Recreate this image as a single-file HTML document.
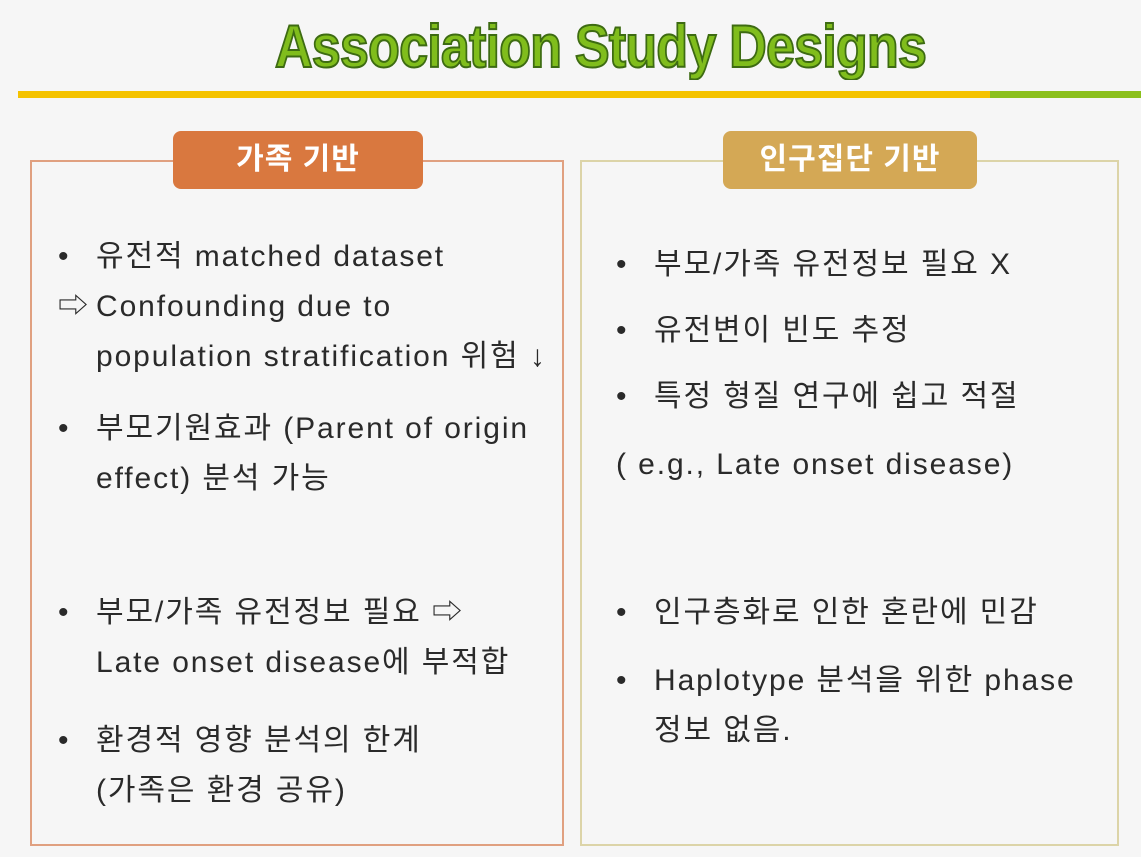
<!DOCTYPE html>
<html><head><meta charset="utf-8"><style>
body{margin:0;width:1141px;height:857px;background:#f6f6f6;position:relative;overflow:hidden;font-family:"Liberation Sans","Noto Sans CJK KR",sans-serif;color:#2a2a2a}
.abs{position:absolute}
#title{left:30px;width:1141px;top:12px;text-align:center;font-family:"Liberation Sans Narrow","Liberation Sans",sans-serif;font-weight:bold;font-size:60px;color:#80bd1c;-webkit-text-stroke:2px #3d6b12;letter-spacing:-1px;transform:scaleX(0.87)}
.box{border:2px solid;top:160px;height:682px}
.hdr{border-radius:8px;color:#fff;font-size:30px;font-weight:bold;text-align:center;line-height:58px;height:58px;top:131px;letter-spacing:1px}
.t{font-size:30px;line-height:50px;white-space:nowrap;letter-spacing:1.9px}
.b{display:inline-block;width:38px}
.i{padding-left:38px}
</style></head><body>
<div id="title" class="abs">Association Study Designs</div>
<div class="abs" style="left:18px;top:91px;width:972px;height:7px;background:#f5c300"></div>
<div class="abs" style="left:990px;top:91px;width:151px;height:7px;background:#8bc01c"></div>

<div class="abs box" style="left:30px;width:530px;border-color:#e0a080"></div>
<div class="abs hdr" style="left:173px;width:250px;background:#d9783f">가족 기반</div>
<div class="abs box" style="left:580px;width:535px;border-color:#dcd4a8"></div>
<div class="abs hdr" style="left:723px;width:254px;background:#d4a855">인구집단 기반</div>

<div class="abs t" style="left:58px;top:232px"><span class="b">•</span>유전적 matched dataset<br><span class="b">⇨</span>Confounding due to<br><span class="i">population stratification 위험 ↓</span></div>
<div class="abs t" style="left:58px;top:404px"><span class="b">•</span>부모기원효과 (Parent of origin<br><span class="i">effect) 분석 가능</span></div>
<div class="abs t" style="left:58px;top:588px"><span class="b">•</span>부모/가족 유전정보 필요 ⇨<br><span class="i">Late onset disease에 부적합</span></div>
<div class="abs t" style="left:58px;top:716px"><span class="b">•</span>환경적 영향 분석의 한계<br><span class="i">(가족은 환경 공유)</span></div>

<div class="abs t" style="left:616px;top:240px"><span class="b">•</span>부모/가족 유전정보 필요 X</div>
<div class="abs t" style="left:616px;top:306px"><span class="b">•</span>유전변이 빈도 추정</div>
<div class="abs t" style="left:616px;top:372px"><span class="b">•</span>특정 형질 연구에 쉽고 적절</div>
<div class="abs t" style="left:616px;top:440px">( e.g., Late onset disease)</div>
<div class="abs t" style="left:616px;top:588px"><span class="b">•</span>인구층화로 인한 혼란에 민감</div>
<div class="abs t" style="left:616px;top:656px"><span class="b">•</span>Haplotype 분석을 위한 phase<br><span class="i">정보 없음.</span></div>
</body></html>
